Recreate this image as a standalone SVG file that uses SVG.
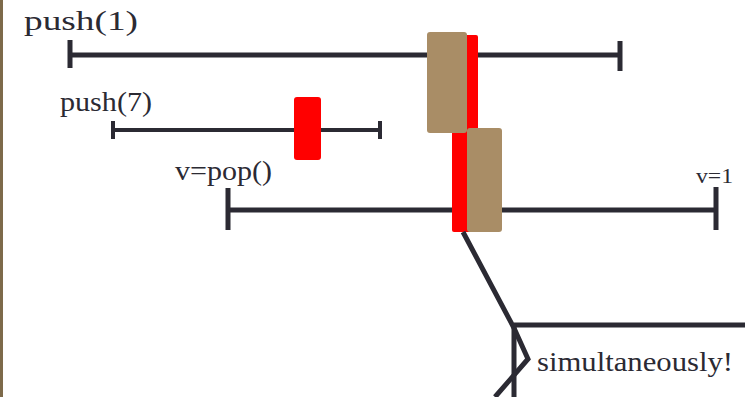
<svg xmlns="http://www.w3.org/2000/svg" width="745" height="397" viewBox="0 0 745 397">
  <style>
    .lbl { font-family: "Liberation Serif", "DejaVu Serif", serif; fill: #2b2a33; }
    .bar { stroke: #2b2a33; stroke-width: 5; fill: none; }
    .thin { stroke: #2b2a33; stroke-width: 4; fill: none; }
    .red { fill: #ff0000; }
    .tan { fill: #a98d66; }
  </style>
  <rect width="745" height="397" fill="#ffffff"/>
  <!-- left margin rule -->
  <rect x="0" y="0" width="3" height="397" fill="#7d6a4a"/>

  <g id="push1">
    <text class="lbl" x="24" y="30" font-size="27" textLength="114" lengthAdjust="spacingAndGlyphs">push(1)</text>
    <path class="bar" d="M70 55 H620 M70 40 V68 M620 41 V71"/>
  </g>

  <g id="push7">
    <text class="lbl" x="60" y="111" font-size="27" textLength="92" lengthAdjust="spacingAndGlyphs">push(7)</text>
    <path class="thin" d="M113 130 H380 M113 121 V139 M380 121 V139"/>
    <rect class="red" x="294" y="97" width="27" height="63" rx="3"/>
  </g>

  <g id="pop">
    <text class="lbl" x="175" y="180" font-size="27" textLength="97" lengthAdjust="spacingAndGlyphs">v=pop()</text>
    <text class="lbl" x="696" y="183" font-size="22" textLength="37" lengthAdjust="spacingAndGlyphs">v=1</text>
    <path class="bar" d="M228 210 H716 M228 188 V230 M716 187 V230"/>
  </g>

  <g id="linearization">
    <rect class="red" x="452" y="35" width="26" height="197" rx="2"/>
    <rect class="tan" x="427" y="32" width="40" height="101" rx="3"/>
    <rect class="tan" x="467" y="128" width="35" height="104" rx="3"/>
  </g>

  <g id="connectors">
    <path class="bar" d="M463 232 L514 328 L528 359 L495 397"/>
    <path class="bar" d="M514 325 H745 M514 325 V397"/>
  </g>

  <g id="note">
    <text class="lbl" x="537" y="371" font-size="27" textLength="196" lengthAdjust="spacingAndGlyphs">simultaneously!</text>
  </g>
</svg>
